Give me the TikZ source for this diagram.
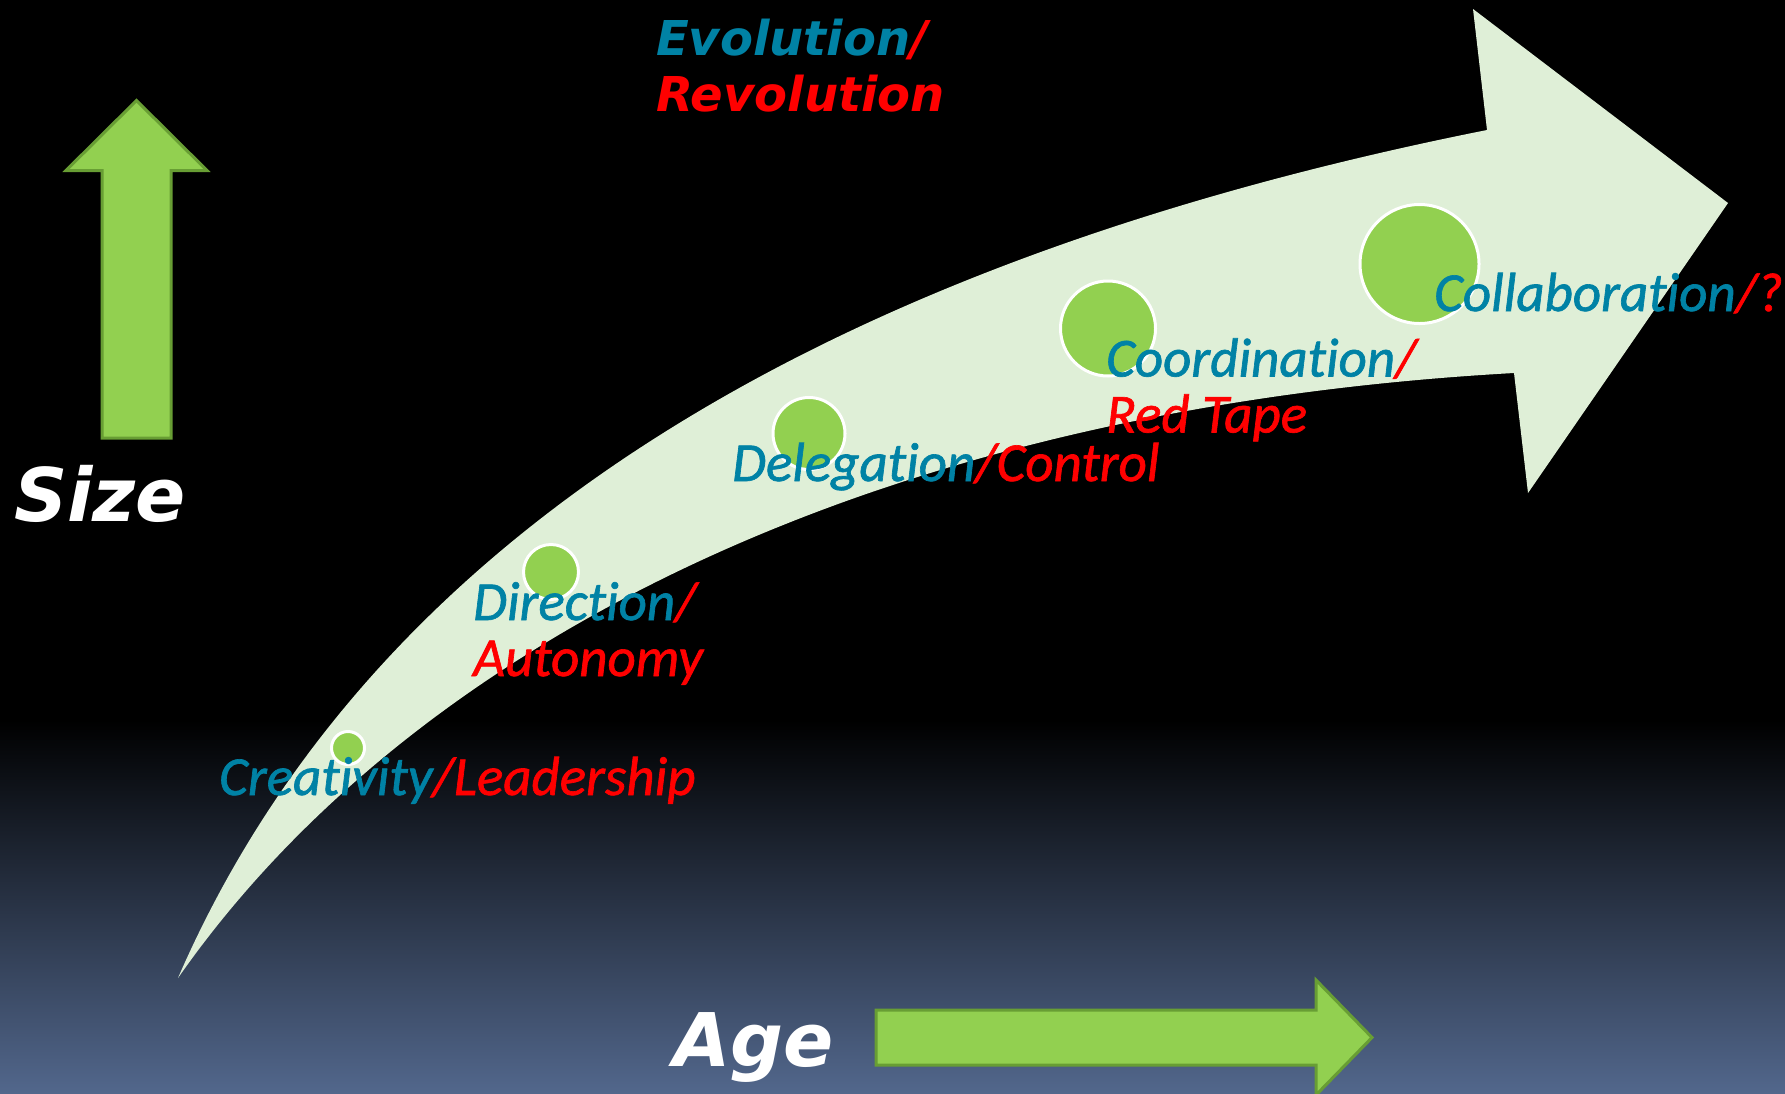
\documentclass[tikz,border=0pt]{standalone}
\usepackage{fontspec}
\newfontfamily\djv{DejaVu Sans}
\newfontfamily\crl[Ligatures=NoCommon,FakeBold=1.2]{Carlito}
\definecolor{bgbot}{RGB}{82,103,140}
\definecolor{arrowlight}{RGB}{223,239,215}
\definecolor{leaf}{RGB}{146,208,80}
\definecolor{leafdark}{RGB}{104,158,52}
\definecolor{tealtxt}{RGB}{0,130,165}
\definecolor{redtxt}{RGB}{255,0,0}
\tikzset{
  dot/.style={circle, fill=leaf, draw=white, line width=3pt, inner sep=0pt},
  greenarrow/.style={fill=leaf, draw=leafdark, line width=3pt, line join=miter},
  bigtitle/.style={inner sep=0pt, anchor=base west, font=\djv\bfseries\itshape\fontsize{48}{52}\selectfont},
  axislabel/.style={inner sep=0pt, anchor=base west, text=white, font=\djv\bfseries\itshape\fontsize{74}{80}\selectfont},
  stage/.style={inner sep=0pt, anchor=base west, align=left, font=\crl\itshape\fontsize{55}{56}\selectfont},
}
\begin{document}
\begin{tikzpicture}[x=1pt,y=-1pt]
\useasboundingbox (0,0) rectangle (1785,1093);
% background
\fill[black] (0,0) rectangle (1785,1093);
\shade[top color=black, bottom color=bgbot] (0,720) rectangle (1785,1093);
% big curved arrow
\fill[arrowlight] (178,978) .. controls (364,550) and (800,267) .. (1487,130)
  -- (1473,9) -- (1728,203) -- (1528,493) -- (1514,373)
  .. controls (850,410) and (400,660) .. (178,978) -- cycle;
% stage dots
\node[dot, minimum size=33pt] (c1) at (348,748) {};
\node[dot, minimum size=55pt] (c2) at (551,572) {};
\node[dot, minimum size=72pt] (c3) at (809,433.5) {};
\node[dot, minimum size=95pt] (c4) at (1108,328.5) {};
\node[dot, minimum size=119pt] (c5) at (1419.5,264) {};
% stage labels
\node[stage] (t1) at (219,795) {\textcolor{tealtxt}{Creativity}\textcolor{redtxt}{/Leadership}};
\node[stage] (t2) at (473,676) {\textcolor{tealtxt}{Direction}\textcolor{redtxt}{/}\\\textcolor{redtxt}{Autonomy}};
\node[stage] (t3) at (732,481) {\textcolor{tealtxt}{Delegation}\textcolor{redtxt}{/Control}};
\node[stage] (t4) at (1106,432.5) {\textcolor{tealtxt}{Coordination}\textcolor{redtxt}{/}\\\textcolor{redtxt}{Red Tape}};
\node[stage] (t5) at (1434,311) {\textcolor{tealtxt}{Collaboration}\textcolor{redtxt}{/?}};
% title
\node[bigtitle] (title1) at (656,55) {\textcolor{tealtxt}{Evolution}\textcolor{redtxt}{/}};
\node[bigtitle] (title2) at (656,111) {\textcolor{redtxt}{Revolution}};
% size arrow
\draw[greenarrow] (136.5,100.5) -- (207,170.5) -- (171,170.5) -- (171,438) -- (102,438) -- (102,170.5) -- (66,170.5) -- cycle;
\node[axislabel] (size) at (14,521) {Size};
% age arrow
\draw[greenarrow] (876,1010) -- (1316,1010) -- (1316,980) -- (1372,1037.5) -- (1316,1095) -- (1316,1065) -- (876,1065) -- cycle;
\node[axislabel] (age) at (673,1066) {Age};
\end{tikzpicture}
\end{document}
